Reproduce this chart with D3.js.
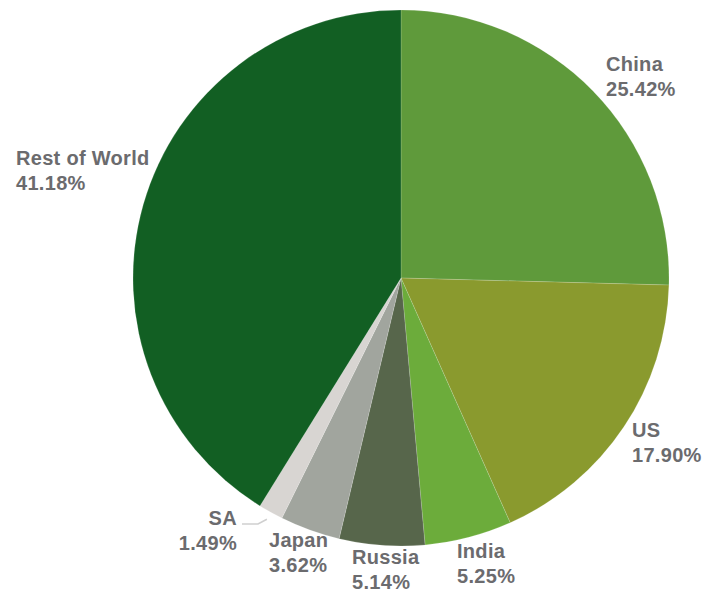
<!DOCTYPE html>
<html>
<head>
<meta charset="utf-8">
<script src="https://cdn.jsdelivr.net/npm/d3@7"></script>
<style>
  html, body { margin: 0; padding: 0; background: #fff; }
  svg { display: block; }
  .lbl { font-family: "Liberation Sans", Arial, Helvetica, sans-serif; font-weight: bold; font-size: 20px; letter-spacing: 0.3px; fill: #6b6b6e; }
</style>
</head>
<body>
<svg id="chart" width="705" height="593"></svg>
<script>
// Share of total, clockwise from 12 o'clock
const countries = ["China", "US", "India", "Russia", "Japan", "SA", "Rest of World"];
const shares = [25.42, 17.90, 5.25, 5.14, 3.62, 1.49, 41.18];
const colors = ["#5f9a3b", "#8a9a2e", "#6cac3b", "#57664b", "#a1a59e", "#d8d5d2", "#125f23"];

// Label anchor points (x, y of first line) and text anchoring
const labelPos = [
  [606, 71, "start"],
  [632, 437, "start"],
  [457, 558, "start"],
  [352, 564, "start"],
  [269, 547, "start"],
  [237, 525, "end"],
  [16, 165, "start"]
];

const svg = d3.select("#chart");
const cx = 401, cy = 278, radius = 268;

const pie = d3.pie().sort(null).value(d => d.value);
const arc = d3.arc().innerRadius(0).outerRadius(radius);

const data = countries.map((c, i) => ({ name: c, value: shares[i], color: colors[i] }));
const arcs = pie(data);

const g = svg.append("g").attr("transform", `translate(${cx},${cy})`);
g.selectAll("path")
  .data(arcs)
  .join("path")
  .attr("d", arc)
  .attr("fill", d => d.data.color)
  .attr("stroke", "#fff")
  .attr("stroke-width", 0.5)
  .attr("stroke-opacity", 0.3);

// Leader line for the small SA slice
const saArc = arcs[5];
const saMid = (saArc.startAngle + saArc.endAngle) / 2;
const tip = [cx + Math.sin(saMid) * (radius + 8), cy - Math.cos(saMid) * (radius + 8)];
svg.append("polyline")
  .attr("points", [[242, 524], [258, 524], tip].map(p => p.join(",")).join(" "))
  .attr("fill", "none")
  .attr("stroke", "#cfcfcf")
  .attr("stroke-width", 1.5);

// Labels: name and percentage
data.forEach((d, i) => {
  const [x, y, anchor] = labelPos[i];
  const t = svg.append("text")
    .attr("class", "lbl")
    .attr("x", x)
    .attr("y", y)
    .attr("text-anchor", anchor);
  t.append("tspan").attr("x", x).text(d.name);
  t.append("tspan").attr("x", x).attr("dy", 25).text(d.value.toFixed(2) + "%");
});
</script>
</body>
</html>
